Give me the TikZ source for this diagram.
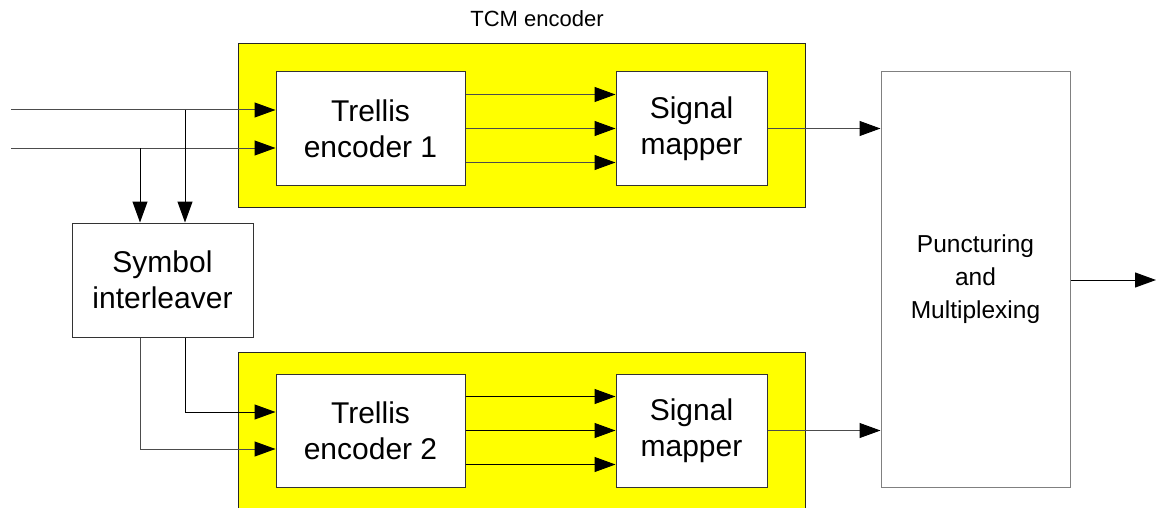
\documentclass[tikz,border=0pt]{standalone}
\usepackage{fontspec}
\setmainfont{Liberation Sans}
\usetikzlibrary{arrows.meta,calc}
\definecolor{panelyellow}{RGB}{255,255,0}
\begin{document}
\begin{tikzpicture}[x=1pt,y=-1pt,
  block/.style={draw=black!80,fill=white,line width=1pt,inner sep=0pt,align=center,font=\fontsize{30}{36}\selectfont},
  panel/.style={draw=black!85,fill=panelyellow,line width=1pt},
  wire/.style={draw=black!70,line width=1pt},
  flow/.style={wire,-{Triangle[length=21pt,width=15pt,black]}}
]
\useasboundingbox (0,0) rectangle (1156,508);

% yellow TCM encoder panels
\begin{scope}
\clip (0,0) rectangle (1156,508);
\draw[panel] (238,44) rectangle (805,207);
\draw[panel] (238,352) rectangle (805,540);
\end{scope}
\node[font=\fontsize{22}{26}\selectfont] (title) at (537,19) {TCM encoder};

% blocks
\node[block,minimum width=189pt,minimum height=113pt] (te1) at (370.5,128.5) {Trellis\\encoder 1};
\node[block,minimum width=151pt,minimum height=113pt] (sm1) at (691.5,128.5) {Signal\\mapper};
\node[block,minimum width=189pt,minimum height=113pt] (te2) at (370.5,430.5) {Trellis\\encoder 2};
\node[block,minimum width=151pt,minimum height=113pt] (sm2) at (691.5,430.5) {Signal\\mapper};
\node[block,minimum width=181pt,minimum height=114pt] (si) at (162.5,280) {Symbol\\interleaver};
\node[block,draw=black!50,minimum width=189pt,minimum height=415pt,font=\fontsize{24.5}{33}\selectfont] (pm) at (975.5,279.5) {Puncturing\\and\\Multiplexing};

% input bits and branch points
\coordinate (inA) at (11,110);
\coordinate (inB) at (11,148);
\coordinate (tapA) at (185,110);
\coordinate (tapB) at (140,148);
\coordinate (inC) at ($(te2.west)+(0,-18.5)$);
\coordinate (inD) at ($(te2.west)+(0,18.5)$);
\coordinate (out) at (1156,280);

\draw[flow] (inA) -- (te1.west |- inA);
\draw[flow] (inB) -- (te1.west |- inB);
\draw[flow,draw=black] (tapA) -- (tapA |- si.north);
\draw[flow,draw=black] (tapB) -- (tapB |- si.north);

% interleaved bits to the second encoder
\draw[flow,draw=black] (si.south -| tapA) -- (tapA |- inC) -- (inC);
\draw[flow] (si.south -| tapB) -- (tapB |- inD) -- (inD);

% encoder to mapper
\foreach \d in {-34,0,34} {
  \draw[flow] ($(te1.east)+(0,\d)$) -- ($(sm1.west)+(0,\d)$);
  \draw[flow,draw=black] ($(te2.east)+(0,\d)$) -- ($(sm2.west)+(0,\d)$);
}

% mappers to multiplexer
\draw[flow] (sm1.east) -- (pm.west |- sm1.east);
\draw[flow] (sm2.east) -- (pm.west |- sm2.east);
\draw[flow,draw=black] (pm.east |- out) -- (out);
\end{tikzpicture}
\end{document}
